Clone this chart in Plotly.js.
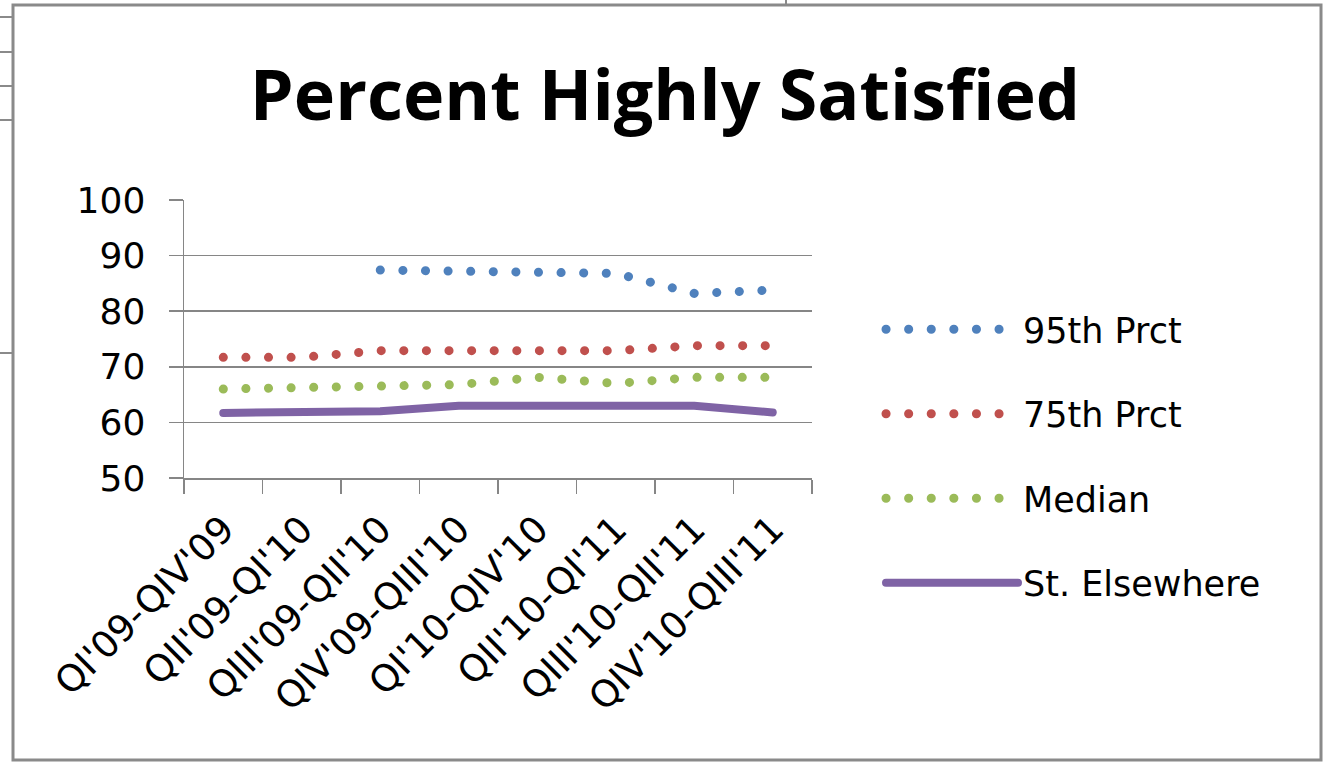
<!DOCTYPE html>
<html>
<head>
<meta charset="utf-8">
<script src="https://cdn.plot.ly/plotly-3.0.1.min.js"></script>
<style>html,body{margin:0;padding:0;background:#fff;} #chart{width:1327px;height:764px;}</style>
</head>
<body>
<div id="chart"></div>
<script>
const categories = ["QI'09-QIV'09", "QII'09-QI'10", "QIII'09-QII'10", "QIV'09-QIII'10", "QI'10-QIV'10", "QII'10-QI'11", "QIII'10-QII'11", "QIV'10-QIII'11"];
const p95 = [null, null, 87.4, 87.0, 87.0, 86.8, 83.2, 83.8];
const p75 = [71.7, 71.7, 72.9, 72.9, 72.9, 72.9, 73.8, 73.8];
const median = [66.0, 66.4, 66.8, 66.8, 68.1, 67.0, 68.1, 68.1];
const stElsewhere = [61.7, 62.0, 62.0, 63.0, 63.0, 63.0, 63.0, 61.8];
const seriesNames = ["95th Prct", "75th Prct", "Median", "St. Elsewhere"];
const yTicks = [50, 60, 70, 80, 90, 100];

const W = 1327, H = 764;
const M = {l: 184, r: W - 812, t: 200, b: H - 478};
const pw = W - M.l - M.r, ph = H - M.t - M.b;
const px = x => (x - M.l) / pw;
const py = y => (H - M.b - y) / ph;

const dotDash = "0.1px,22.5px";
const traces = [
  {name: seriesNames[0], y: p95, color: "#4F81BD", dash: dotDash, w: 9},
  {name: seriesNames[1], y: p75, color: "#C0504D", dash: dotDash, w: 9},
  {name: seriesNames[2], y: median, color: "#9BBB59", dash: dotDash, w: 9},
  {name: seriesNames[3], y: stElsewhere, color: "#7F63A5", dash: "solid", w: 8}
].map((s, i) => ({
  type: "scatter", mode: "lines", x: categories, y: s.y, name: s.name,
  legendgroup: "g" + i,
  line: {color: s.color, width: s.w, dash: s.dash},
  connectgaps: false, hoverinfo: "skip"
}));

const frame = "#8a8a8a";
const shapes = [
  {type: "rect", xref: "paper", yref: "paper", x0: px(13), x1: px(1321), y0: py(760), y1: py(5), line: {color: frame, width: 3}, layer: "below"},
  {type: "line", xref: "paper", yref: "paper", x0: px(786), x1: px(786), y0: py(0), y1: py(5), line: {color: frame, width: 2}}
];
[17, 52, 86, 120, 353].forEach(y => shapes.push({type: "line", xref: "paper", yref: "paper", x0: px(0), x1: px(13), y0: py(y), y1: py(y), line: {color: frame, width: 2}}));

const titleFont = "'Open Sans', Lato, sans-serif";
const font = "'DejaVu Sans', 'Open Sans', sans-serif";
const layout = {
  width: W, height: H,
  margin: M,
  paper_bgcolor: "#fff", plot_bgcolor: "#fff",
  font: {family: font, color: "#000"},
  title: {text: "<b>Percent Highly Satisfied</b>", font: {family: titleFont, size: 70, color: "#000"}, xref: "container", yref: "container", x: 665 / W, xanchor: "center", y: 1 - 95 / H, yanchor: "middle"},
  xaxis: {
    type: "category", range: [-0.5, categories.length - 0.5], tickangle: -45, tickson: "boundaries",
    ticks: "outside", ticklen: 14, tickcolor: "#868686", tickwidth: 1.5,
    showline: true, linecolor: "#868686", linewidth: 1.5,
    showgrid: false, tickfont: {family: font, size: 37, color: "#000"}, ticklabelstandoff: 13,
    fixedrange: true
  },
  yaxis: {
    range: [50, 100], tickvals: yTicks, ticktext: yTicks.map(String),
    ticks: "outside", ticklen: 14, tickcolor: "#868686", tickwidth: 1.5,
    showline: true, linecolor: "#868686", linewidth: 1.5,
    showgrid: true, gridcolor: "#868686", gridwidth: 1.5, zeroline: false,
    tickfont: {family: font, size: 36, color: "#000"}, ticklabelstandoff: 16,
    fixedrange: true
  },
  showlegend: true,
  legend: {
    x: px(881), xanchor: "left", y: py(300), yanchor: "top",
    font: {family: font, size: 35, color: "#000"},
    itemwidth: 132, tracegroupgap: 36, bgcolor: "rgba(0,0,0,0)", maxheight: 500,
    traceorder: "grouped", itemclick: false, itemdoubleclick: false
  },
  shapes: shapes
};

Plotly.newPlot("chart", traces, layout, {staticPlot: true, displayModeBar: false}).then(gd => {
  gd.querySelectorAll("path.js-line").forEach(p => { p.style.strokeLinecap = "round"; });
});
</script>
</body>
</html>
